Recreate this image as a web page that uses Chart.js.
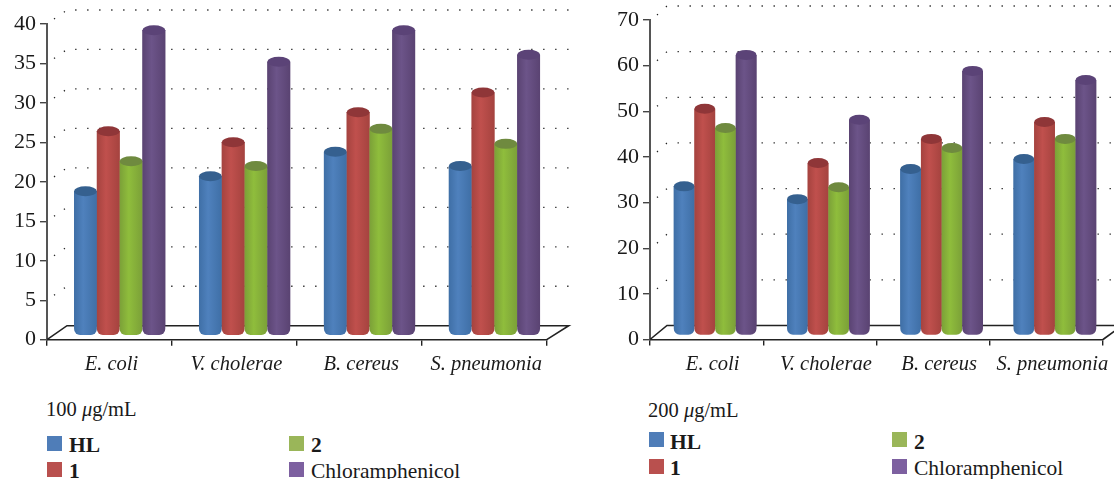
<!DOCTYPE html>
<html>
<head>
<meta charset="utf-8">
<script src="https://cdn.jsdelivr.net/npm/chart.js@4"></script>
<style>
  html, body { margin: 0; padding: 0; background: #fff; overflow: hidden; }
  body { width: 1114px; height: 479px; position: relative; font-family: "Liberation Serif", serif; color: #1a1a1a; }
  canvas { position: absolute; top: 0; }
  .txt { position: absolute; font-size: 21.5px; line-height: 22px; white-space: nowrap; }
  .sub { font-size: 20.5px; }
  .sw { position: absolute; width: 15px; height: 15px; }
  b { font-weight: bold; }
</style>
</head>
<body>
<canvas id="left" style="left:0"></canvas>
<canvas id="right" style="left:600px"></canvas>

<div class="txt sub" style="left:46px;top:398px">100 <i>μ</i>g/mL</div>
<div class="sw" style="left:47px;top:436px;background:#4f7db8"></div><div class="txt" style="left:69px;top:434px"><b>HL</b></div>
<div class="sw" style="left:47px;top:462px;background:#b9504e"></div><div class="txt" style="left:69px;top:460px"><b>1</b></div>
<div class="sw" style="left:289px;top:436px;background:#9ab659"></div><div class="txt" style="left:311px;top:434px"><b>2</b></div>
<div class="sw" style="left:289px;top:462px;background:#7d60a0"></div><div class="txt" style="left:311px;top:460px">Chloramphenicol</div>

<div class="txt sub" style="left:648px;top:399px">200 <i>μ</i>g/mL</div>
<div class="sw" style="left:649px;top:432px;background:#4f7db8"></div><div class="txt" style="left:670px;top:431px"><b>HL</b></div>
<div class="sw" style="left:649px;top:459px;background:#b9504e"></div><div class="txt" style="left:670px;top:457px"><b>1</b></div>
<div class="sw" style="left:892px;top:432px;background:#9ab659"></div><div class="txt" style="left:914px;top:431px"><b>2</b></div>
<div class="sw" style="left:892px;top:459px;background:#7d60a0"></div><div class="txt" style="left:914px;top:457px">Chloramphenicol</div>

<script>
const categories = ['E. coli', 'V. cholerae', 'B. cereus', 'S. pneumonia'];
const seriesNames = ['HL', '1', '2', 'Chloramphenicol'];

const hl100 = [17.8, 19.7, 22.8, 21];
const one100 = [25.4, 24, 27.8, 30.3];
const two100 = [21.6, 21, 25.7, 23.8];
const chlor100 = [38.2, 34.2, 38.2, 35.1];

const hl200 = [31.8, 29, 35.6, 37.8];
const one200 = [48.8, 36.9, 42.2, 45.9];
const two200 = [44.6, 31.6, 40.2, 42.2];
const chlor200 = [60.6, 46.4, 57.1, 55.1];

// [centre, edge, top]
const barColors = [
    ['#4f81bd', '#3f6fa6', '#35608f'],
    ['#c0504d', '#a5433f', '#8f3638'],
    ['#8fbd3c', '#7ba038', '#6f8a3f'],
    ['#6c5489', '#5a4372', '#5b4377']
];

// draws the fake 3D parts on top of the real bars
function cylinderPlugin(cfg) {
    return {
        id: 'cylinders',
        beforeDatasetsDraw(chart) {
            const ctx = chart.ctx;
            const area = chart.chartArea;
            const yScale = chart.scales.y;

            ctx.save();
            ctx.lineWidth = 1.6;
            ctx.strokeStyle = '#222';
            ctx.beginPath();
            ctx.moveTo(area.left, area.bottom);
            ctx.lineTo(area.left + cfg.backX, area.bottom + cfg.backY);
            ctx.lineTo(area.right + cfg.backX + 2, area.bottom + cfg.backY);
            ctx.lineTo(area.right, area.bottom);
            ctx.stroke();

            // dotted back wall
            ctx.lineWidth = 1.3;
            ctx.strokeStyle = '#222';
            ctx.setLineDash([1.3, 10.7]);
            yScale.ticks.forEach(t => {
                if (t.value === 0) return;
                const py = yScale.getPixelForValue(t.value);
                ctx.beginPath();
                ctx.moveTo(area.left + 7, py - 5);
                ctx.lineTo(area.left + cfg.backX, py + cfg.backY);
                ctx.lineTo(area.right + cfg.backX + 8, py + cfg.backY);
                ctx.stroke();
            });
            ctx.restore();

            ctx.save();
            ctx.translate(cfg.barX, cfg.barY);
        },
        afterDatasetsDraw(chart) {
            const ctx = chart.ctx;
            chart.data.datasets.forEach((ds, i) => {
                chart.getDatasetMeta(i).data.forEach(el => {
                    const left = el.x - el.width / 2;
                    const c = barColors[i];
                    const grad = ctx.createLinearGradient(left, 0, left + el.width, 0);
                    grad.addColorStop(0, c[1]);
                    grad.addColorStop(0.4, c[0]);
                    grad.addColorStop(1, c[1]);
                    ctx.fillStyle = grad;
                    ctx.beginPath();
                    ctx.roundRect(left, el.y, el.width, el.base + 4 - el.y, [0, 0, 6, 6]);
                    ctx.fill();

                    ctx.fillStyle = c[2];
                    ctx.beginPath();
                    ctx.ellipse(el.x, el.y, el.width / 2, 5, 0, 0, Math.PI * 2);
                    ctx.fill();
                });
            });
            ctx.restore();
        }
    };
}

function drawPanel(id, width, pad, maxY, step, group, values, cfg) {
    const canvas = document.getElementById(id);
    canvas.width = width;
    canvas.height = 390;
    canvas.style.width = width + 'px';
    canvas.style.height = '390px';

    new Chart(canvas.getContext('2d'), {
        type: 'bar',
        data: {
            labels: categories,
            datasets: values.map((v, i) => ({
                label: seriesNames[i],
                data: v,
                backgroundColor: barColors[i][1],
                borderRadius: { topLeft: 0, topRight: 0, bottomLeft: 6, bottomRight: 6 },
                borderSkipped: false,
                barPercentage: 1,
                categoryPercentage: group
            }))
        },
        options: {
            responsive: false,
            animation: false,
            layout: { padding: { top: pad.top, right: pad.right, left: 0, bottom: 0 } },
            plugins: { legend: { display: false }, tooltip: { enabled: false } },
            scales: {
                x: {
                    afterFit(scale) { scale.height = 390 - pad.bottom; },
                    grid: { drawOnChartArea: false, tickLength: 6, color: '#222', lineWidth: 1.4, offset: true },
                    border: { color: '#222', width: 1.6 },
                    ticks: {
                        color: '#1a1a1a',
                        padding: 7,
                        maxRotation: 0,
                        autoSkip: false,
                        labelOffset: cfg.labelShift,
                        font: { family: 'Liberation Serif', size: 20.5, style: 'italic' }
                    }
                },
                y: {
                    min: 0,
                    max: maxY,
                    afterFit(scale) { scale.width = pad.left; },
                    grid: { drawOnChartArea: false, tickLength: 7, color: '#444', lineWidth: 1.4 },
                    border: { color: '#555', width: 2 },
                    ticks: {
                        stepSize: step,
                        color: '#1a1a1a',
                        padding: 4,
                        font: { family: 'Liberation Serif', size: 22 }
                    }
                }
            }
        },
        plugins: [cylinderPlugin(cfg)]
    });
}

drawPanel('left', 600, { left: 47, top: 24, right: 53.3, bottom: 339.7 }, 40, 5, 0.73,
    [hl100, one100, two100, chlor100],
    { backX: 20, backY: -14, barX: 10.2, barY: -8, labelShift: 2 });

drawPanel('right', 514, { left: 50, top: 20, right: 11, bottom: 339.5 }, 70, 10, 0.73,
    [hl200, one200, two200, chlor200],
    { backX: 17, backY: -14, barX: 8.5, barY: -8, labelShift: 6 });
</script>
</body>
</html>
